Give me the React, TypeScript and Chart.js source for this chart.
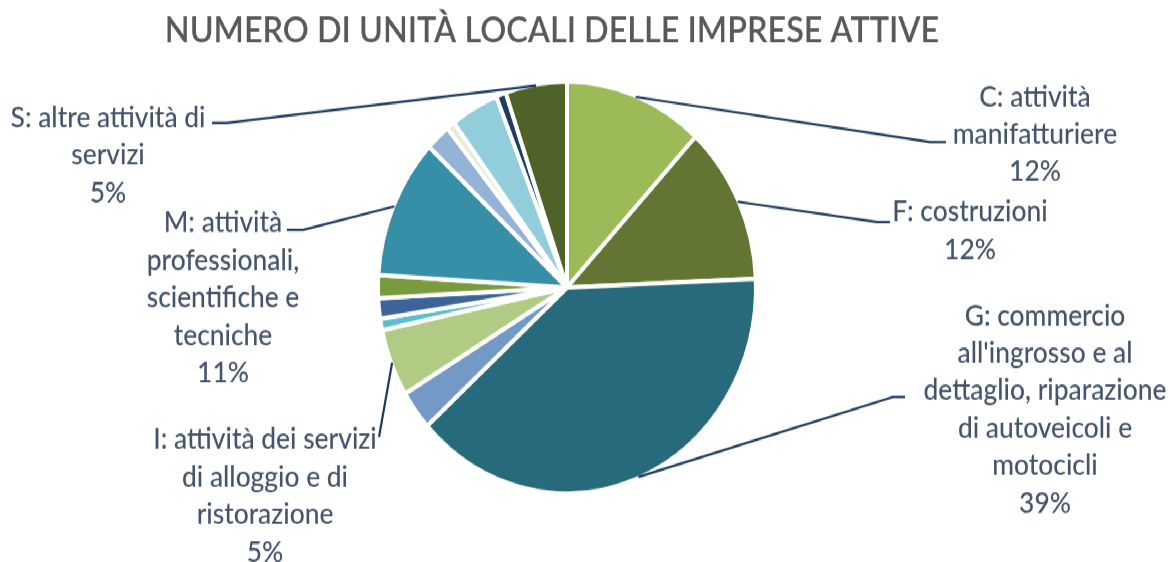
import React, { useEffect, useRef } from "react";
import { Chart, registerables } from "chart.js";

Chart.register(...registerables);

const TITLE = "NUMERO DI UNITÀ LOCALI DELLE IMPRESE ATTIVE";

const CATEGORIES = [
  "C: attività manifatturiere",
  "F: costruzioni",
  "G: commercio all'ingrosso e al dettaglio, riparazione di autoveicoli e motocicli",
  "H: trasporto e magazzinaggio",
  "I: attività dei servizi di alloggio e di ristorazione",
  "J: servizi di informazione e comunicazione",
  "K: attività finanziarie e assicurative",
  "L: attività immobiliari",
  "M: attività professionali, scientifiche e tecniche",
  "N: noleggio, agenzie di viaggio, servizi di supporto alle imprese",
  "P: istruzione",
  "Q: sanità e assistenza sociale",
  "R: attività artistiche, sportive, di intrattenimento e divertimento",
  "S: altre attività di servizi",
];

// share of local units (%)
const SHARES = [11.9, 12.4, 38.9, 3.1, 5.3, 0.9, 1.6, 1.8, 11.0, 2.1, 0.7, 4.1, 0.85, 5.25];

const COLORS = [
  "#9BBB59", "#637532", "#276A7C", "#7399C6", "#B0CB83", "#5BBDD4", "#3C6498",
  "#7A9A3E", "#368FA6", "#95B3D7", "#E4ECD2", "#92CDDC", "#1F3D63", "#4F6228",
];

// wrapped label text as shown next to the labelled slices (null = no label)
const LABEL_LINES: (string[] | null)[] = [
  ["C: attività", "manifatturiere"],
  ["F: costruzioni"],
  ["G: commercio", "all'ingrosso e al", "dettaglio, riparazione", "di autoveicoli e", "motocicli"],
  null,
  ["I: attività dei servizi", "di alloggio e di", "ristorazione"],
  null,
  null,
  null,
  ["M: attività", "professionali,", "scientifiche e", "tecniche"],
  null,
  null,
  null,
  null,
  ["S: altre attività di", "servizi"],
];

// layout of the label boxes (page px): text centre x, first-line centre y, leader elbow and end
const LABEL_LAYOUT: Record<number, { cx: number; y: number; elbow: [number, number]; end: [number, number] }> = {
  0: { cx: 1035, y: 97, elbow: [930, 142], end: [946, 142] },
  1: { cx: 970, y: 212, elbow: [877, 222], end: [890, 222] },
  2: { cx: 1045, y: 316, elbow: [893, 397], end: [905, 397] },
  4: { cx: 265, y: 440, elbow: [379, 437], end: [379, 437] },
  8: { cx: 223, y: 223, elbow: [303, 230], end: [287, 230] },
  13: { cx: 108, y: 118, elbow: [227, 123], end: [212, 123] },
};

const PAGE_W = 1173;
const PAGE_H = 562;
const CANVAS_H = 516;
const SY = PAGE_H / CANVAS_H;
const LINE_STEP = 37.5;
const TEXT_COLOR = "#44546A";
const LEADER_COLOR = "#1F3A5F";
const TITLE_COLOR = "#595959";

function pickFont(ctx: CanvasRenderingContext2D): string {
  const test = "abcdefghijklmnopqrstuvwxyz ABCDEFG àè 0123";
  const cands = ['"Liberation Sans Narrow"', "Lato"];
  ctx.font = "40px monospace";
  const base = ctx.measureText(test).width;
  for (const f of cands) {
    ctx.font = `40px ${f}, monospace`;
    if (Math.abs(ctx.measureText(test).width - base) > 1) return f;
  }
  return "sans-serif";
}

function fitSize(ctx: CanvasRenderingContext2D, font: string, text: string, target: number): number {
  ctx.font = font.replace("SIZE", "100px");
  return (100 * target) / ctx.measureText(text).width;
}

const labelPlugin = {
  id: "pieLabels",
  afterDraw(chart: any) {
    const ctx: CanvasRenderingContext2D = chart.ctx;
    const family = pickFont(ctx);
    const total = SHARES.reduce((a, b) => a + b, 0);
    ctx.save();
    // title
    const tFont = `600 SIZE ${family}`;
    const tSize = fitSize(ctx, tFont, TITLE, 775);
    ctx.font = tFont.replace("SIZE", `${tSize}px`);
    ctx.fillStyle = TITLE_COLOR;
    ctx.textAlign = "center";
    ctx.textBaseline = "middle";
    ctx.fillText(TITLE, 552, 31 / SY);

    const lFont = `500 SIZE ${family}`;
    const lSize = fitSize(ctx, lFont, "S: altre attività di", 195);
    const meta = chart.getDatasetMeta(0);
    LABEL_LINES.forEach((lines, i) => {
      if (!lines) return;
      const pos = LABEL_LAYOUT[i];
      const arc = meta.data[i];
      const p = arc.getProps(["x", "y", "startAngle", "endAngle", "outerRadius"], true);
      const mid = (p.startAngle + p.endAngle) / 2;
      const sx = p.x + Math.cos(mid) * (p.outerRadius - 1);
      const sy = p.y + Math.sin(mid) * (p.outerRadius - 1);
      ctx.strokeStyle = LEADER_COLOR;
      ctx.lineWidth = 2.2;
      ctx.lineJoin = "round";
      ctx.beginPath();
      ctx.moveTo(sx, sy);
      ctx.lineTo(pos.elbow[0], pos.elbow[1] / SY);
      ctx.lineTo(pos.end[0], pos.end[1] / SY);
      ctx.stroke();

      const pct = Math.round((SHARES[i] / total) * 100) + "%";
      const all = [...lines, pct];
      ctx.font = lFont.replace("SIZE", `${lSize}px`);
      ctx.fillStyle = TEXT_COLOR;
      ctx.textAlign = "center";
      ctx.textBaseline = "middle";
      all.forEach((t, k) => {
        ctx.fillText(t, pos.cx, (pos.y + k * LINE_STEP) / SY);
      });
    });
    ctx.restore();
  },
};

export default function App() {
  const ref = useRef<HTMLCanvasElement | null>(null);
  useEffect(() => {
    if (!ref.current) return;
    const chart = new Chart(ref.current, {
      type: "pie",
      data: {
        labels: CATEGORIES,
        datasets: [
          {
            data: SHARES,
            backgroundColor: COLORS,
            borderColor: "#FFFFFF",
            borderWidth: 4,
            radius: 189,
          } as any,
        ],
      },
      options: {
        responsive: false,
        animation: false,
        events: [],
        layout: { padding: { left: 378, right: 417, top: 75, bottom: 63 } },
        plugins: {
          legend: { display: false },
          tooltip: { enabled: false },
          title: { display: false },
        },
      },
      plugins: [labelPlugin],
    });
    return () => chart.destroy();
  }, []);
  return (
    <div
      style={{
        position: "fixed",
        left: 0,
        top: 0,
        width: PAGE_W,
        height: CANVAS_H,
        transform: `scaleY(${SY})`,
        transformOrigin: "0 0",
        background: "#FFFFFF",
      }}
    >
      <canvas ref={ref} width={PAGE_W} height={CANVAS_H} />
    </div>
  );
}
